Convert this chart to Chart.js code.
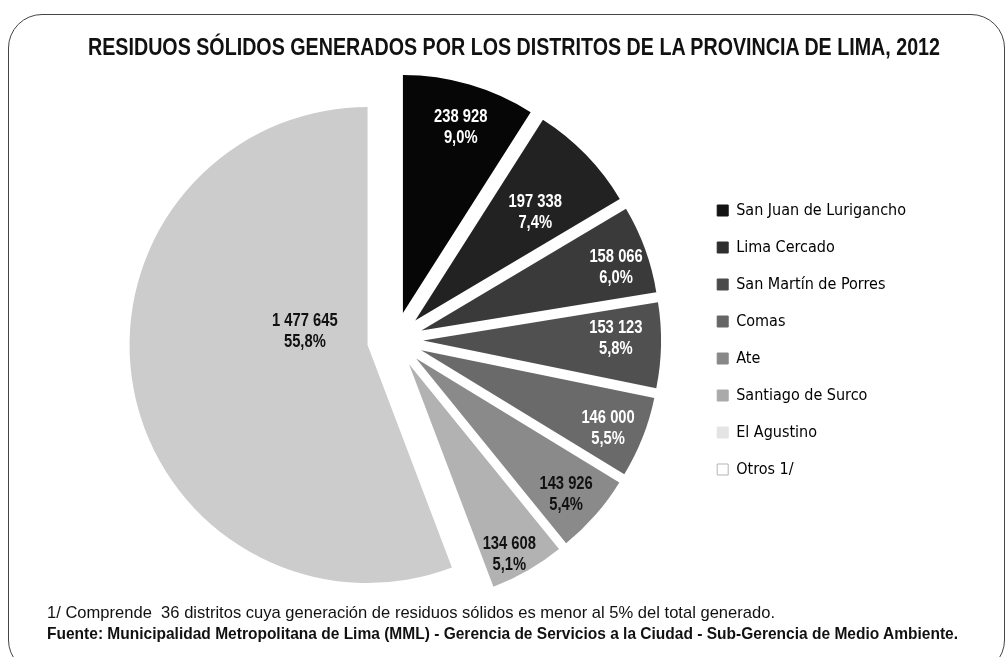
<!DOCTYPE html>
<html>
<head>
<meta charset="utf-8">
<script src="https://cdn.jsdelivr.net/npm/chart.js@4.4.1/dist/chart.umd.min.js"></script>
<style>
  html, body { margin: 0; padding: 0; background: #fff; }
  body { width: 1006px; height: 657px; position: relative; overflow: hidden;
         font-family: 'Liberation Sans', Arial, sans-serif; color: #111; }
  #frame { position: absolute; left: 8px; top: 14px; width: 997px; height: 660px;
           border: 1px solid #444; border-radius: 34px; box-sizing: border-box; }
  #chart { position: absolute; left: 0; top: 0; }
  .txt { position: absolute; white-space: nowrap; display: inline-block; transform-origin: 0 0; }
  #title { top: 34px; left: 88px; font-weight: bold; font-size: 23px; }
  .note { left: 47px; font-size: 17px; }
</style>
</head>
<body>
<div id="frame"></div>
<canvas id="chart" width="1006" height="657"></canvas>
<span id="title" class="txt" data-w="852">RESIDUOS SÓLIDOS GENERADOS POR LOS DISTRITOS DE LA PROVINCIA DE LIMA, 2012</span>
<span class="txt note" style="top:603px" data-w="728">1/ Comprende&nbsp; 36 distritos cuya generación de residuos sólidos es menor al 5% del total generado.</span>
<span class="txt note" style="top:624px;font-weight:bold" data-w="911">Fuente: Municipalidad Metropolitana de Lima (MML) - Gerencia de Servicios a la Ciudad - Sub-Gerencia de Medio Ambiente.</span>

<script>
const districts = ["San Juan de Lurigancho", "Lima Cercado", "San Martín de Porres", "Comas",
                   "Ate", "Santiago de Surco", "El Agustino", "Otros 1/"];
const tonnes = [238928, 197338, 158066, 153123, 146000, 143926, 134608, 1477645];

const sliceColors = ["#060606", "#222222", "#3a3a3a", "#505050", "#6a6a6a", "#8a8a8a", "#b2b2b2", "#cccccc"];
const legendColors = ["#141414", "#2e2e2e", "#4a4a4a", "#666666", "#888888", "#aaaaaa", "#e4e4e4", "#ffffff"];
const labelColors = ["#fff", "#fff", "#fff", "#fff", "#fff", "#111", "#111", "#111"];
// value label placement: share of radius from the slice tip, and a small turn in degrees
const labelFrac = [0.82, 0.68, 0.86, 0.81, 0.85, 0.85, 0.9, 0.27];
const labelTurn = [1, 2, 2, -2, 1, 1, 2, 23];
const EXPLODE = 28;

const total = tonnes.reduce((a, b) => a + b, 0);

function fmtNum(n) {
  return String(n).replace(/\B(?=(\d{3})+(?!\d))/g, " ");
}
function fmtPct(n) {
  return (n / total * 100).toFixed(1).replace(".", ",") + "%";
}

// narrow look: squeeze html text to the width it has in the picture
document.querySelectorAll(".txt").forEach(el => {
  const w = el.getBoundingClientRect().width;
  el.style.transform = "scaleX(" + (el.dataset.w / w) + ")";
});

// pull every slice out from the centre, like an exploded Excel pie
const explode = {
  id: "explode",
  afterDatasetUpdate(chart, args) {
    args.meta.data.forEach(arc => {
      const mid = (arc.startAngle + arc.endAngle) / 2;
      arc.x += Math.cos(mid) * EXPLODE;
      arc.y += Math.sin(mid) * EXPLODE;
    });
  }
};

const sliceLabels = {
  id: "sliceLabels",
  afterDatasetsDraw(chart) {
    const ctx = chart.ctx;
    const meta = chart.getDatasetMeta(0);
    ctx.save();
    ctx.font = "bold 18px 'Liberation Sans', Arial, sans-serif";
    ctx.textAlign = "center";
    ctx.textBaseline = "middle";
    meta.data.forEach((arc, i) => {
      const mid = (arc.startAngle + arc.endAngle) / 2;
      const a = mid + labelTurn[i] * Math.PI / 180;
      const r = arc.outerRadius * labelFrac[i];
      const x = arc.x + Math.cos(a) * r;
      const y = arc.y + Math.sin(a) * r;
      ctx.fillStyle = labelColors[i];
      ctx.save();
      ctx.translate(x, y);
      ctx.scale(0.82, 1);
      ctx.fillText(fmtNum(tonnes[i]), 0, -10);
      ctx.fillText(fmtPct(tonnes[i]), 0, 11);
      ctx.restore();
    });
    ctx.restore();
  }
};

new Chart(document.getElementById("chart"), {
  type: "pie",
  data: {
    labels: districts,
    datasets: [{
      data: tonnes,
      backgroundColor: sliceColors,
      borderWidth: 0,
      hoverOffset: 0,
      radius: 238
    }]
  },
  options: {
    responsive: false,
    animation: false,
    devicePixelRatio: 1,
    events: [],
    layout: { padding: { top: 88, bottom: 65, left: 94, right: 90 } },
    plugins: {
      tooltip: { enabled: false },
      legend: {
        position: "right",
        align: "center",
        labels: {
          boxWidth: 11,
          boxHeight: 11,
          padding: 21,
          color: "#111",
          font: { family: "'DejaVu Sans Condensed', 'Liberation Sans', sans-serif", size: 16 },
          generateLabels(chart) {
            return districts.map((name, i) => ({
              text: name,
              fillStyle: legendColors[i],
              strokeStyle: i === districts.length - 1 ? "#b5b5b5" : legendColors[i],
              lineWidth: 1,
              hidden: false,
              index: i
            }));
          }
        }
      }
    }
  },
  plugins: [explode, sliceLabels]
});
</script>
</body>
</html>
